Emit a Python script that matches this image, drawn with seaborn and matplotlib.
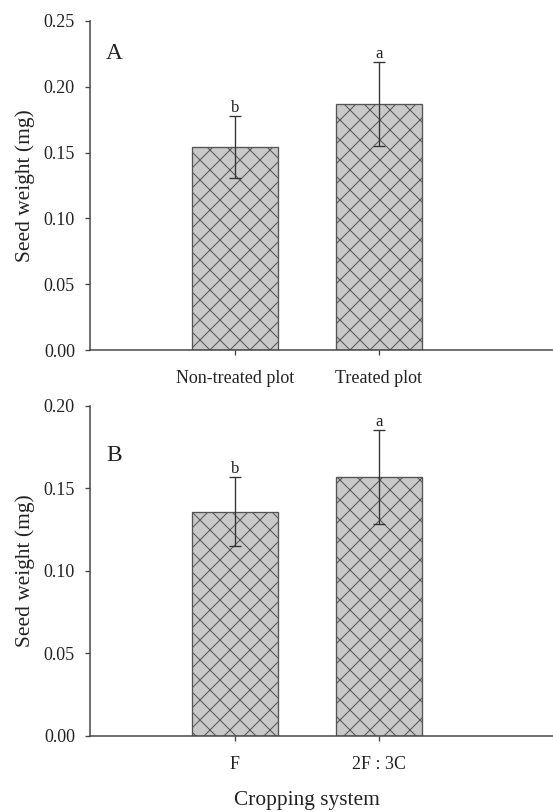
import matplotlib
matplotlib.use("Agg")
import matplotlib.pyplot as plt
import seaborn as sns
import numpy as np

# Data
cats_a = ["Non-treated plot", "Treated plot"]
vals_a = [0.154, 0.187]
err_a = [0.0235, 0.032]
letters_a = ["b", "a"]

cats_b = ["F", "2F : 3C"]
vals_b = [0.136, 0.157]
err_b = [0.021, 0.0285]
letters_b = ["b", "a"]

sns.set_style("ticks")
plt.rcParams["font.family"] = ["Liberation Serif", "DejaVu Serif"]
plt.rcParams["hatch.linewidth"] = 0.6
plt.rcParams["hatch.color"] = "#2a2a2a"

DPI = 120
fig = plt.figure(figsize=(553 / DPI, 812 / DPI), dpi=DPI)

W, H = 553, 812
def pos(x0, y0, x1, y1):
    return [x0 / W, 1 - y1 / H, (x1 - x0) / W, (y1 - y0) / H]

axA = fig.add_axes(pos(90, 20.7, 553, 350.3))
axB = fig.add_axes(pos(90, 406, 553, 735.7))

axis_col = "#444444"

def panel(ax, cats, vals, errs, letters, ymax, yticks, tag, letter_off):
    sns.barplot(x=cats, y=vals, ax=ax, color="#c9c9c9", width=0.6,
                edgecolor="#555555", linewidth=0.8, errorbar=None,
                saturation=1)
    for p in ax.patches:
        p.set_hatch("xx")
    xs = np.arange(len(cats))
    ax.errorbar(xs, vals, yerr=errs, fmt="none", ecolor="#333333",
                elinewidth=0.8, capsize=3.5, capthick=0.8)
    for x, v, e, l in zip(xs, vals, errs, letters):
        ax.text(x, v + e + letter_off, l, ha="center", va="bottom",
                fontsize=10, color="#222222")
    ax.set_xlim(-1.007, 2.21)
    ax.set_ylim(0, ymax)
    ax.set_yticks(yticks)
    ax.set_yticklabels([f"{t:.2f}" for t in yticks])
    ax.set_ylabel("Seed weight (mg)", fontsize=12.8, color="#222222", labelpad=5)
    ax.set_xlabel("")
    for s in ["top", "right"]:
        ax.spines[s].set_visible(False)
    for s in ["left", "bottom"]:
        ax.spines[s].set_color(axis_col)
        ax.spines[s].set_linewidth(0.9)
    ax.tick_params(axis="both", direction="out", length=3, width=0.8,
                   color=axis_col, labelsize=10.8, labelcolor="#222222", pad=6)
    ax.tick_params(axis="x", pad=9)
    ax.text(0.035, tag[1], tag[0], transform=ax.transAxes, fontsize=14,
            ha="left", va="center", color="#222222")

panel(axA, cats_a, vals_a, err_a, letters_a, 0.25,
      [0.0, 0.05, 0.10, 0.15, 0.20, 0.25], ("A", 0.9), 0.0)
panel(axB, cats_b, vals_b, err_b, letters_b, 0.20,
      [0.0, 0.05, 0.10, 0.15, 0.20], ("B", 0.85), 0.0)

fig.text(307 / W, 1 - 800 / H, "Cropping system", ha="center", va="center",
         fontsize=12.8, color="#222222")

fig.savefig("out.png", dpi=DPI)
